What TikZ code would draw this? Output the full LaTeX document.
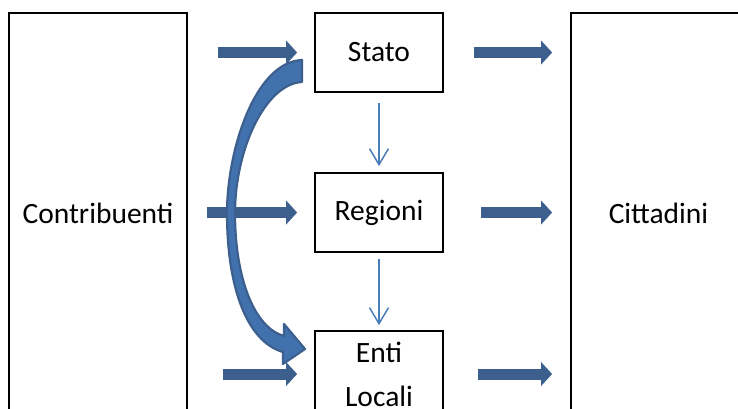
\documentclass[tikz,border=0pt]{standalone}
\usepackage{fontspec}
\setmainfont{Carlito}
\usetikzlibrary{arrows.meta,calc}
\definecolor{blockblue}{HTML}{3C5F8E}
\definecolor{thinblue}{HTML}{4A7EBB}
\definecolor{curvefill}{HTML}{4272AE}
\begin{document}
\begin{tikzpicture}[x=1pt,y=-1pt,
  font=\fontsize{29.5}{44}\selectfont,
  box/.style={draw=black,line width=1.8pt,inner sep=0pt,align=center,minimum width=128pt,minimum height=79pt},
  tall/.style={draw=black,line width=1.8pt,inner sep=0pt,minimum height=400pt},
  blockarrow/.style={draw=blockblue,line width=11pt,-{Triangle[length=11pt,width=24pt,line width=0pt]}},
  thinarrow/.style={draw=thinblue,line width=1.5pt,-{Straight Barb[length=16pt,width=19pt]}}]
\useasboundingbox (0,0) rectangle (738,408);
\clip (0,0) rectangle (738,408);
\node[tall,minimum width=178pt] (contrib) at (98,213) {Contribuenti};
\node[tall,minimum width=175pt] (citt) at (658.5,213) {Cittadini};
\node[box] (stato) at (379,52.5) {Stato};
\node[box] (reg) at (379,212.5) {Regioni};
\node[box,minimum height=86pt] (enti) at (379,374) {Enti\\Locali};
% block arrows
\draw[blockarrow] ([xshift=30pt]contrib.east |- stato.west) -- ([xshift=-17pt]stato.west);
\draw[blockarrow] ([xshift=19pt]contrib.east |- reg.west) -- ([xshift=-17pt]reg.west);
\draw[blockarrow] ([xshift=35pt]contrib.east |- enti.west) -- ([xshift=-17pt]enti.west);
\draw[blockarrow] ([xshift=30pt]stato.east) -- ([xshift=-18pt]citt.west |- stato.east);
\draw[blockarrow] ([xshift=37pt]reg.east) -- ([xshift=-18pt]citt.west |- reg.east);
\draw[blockarrow] ([xshift=34pt]enti.east) -- ([xshift=-18pt]citt.west |- enti.east);
% thin arrows
\draw[thinarrow] ([yshift=-10pt]stato.south) -- ([yshift=6pt]reg.north);
\draw[thinarrow] ([yshift=-6pt]reg.south) -- ([yshift=5pt]enti.north);
% curved arrow
\draw[draw=blockblue,fill=curvefill,line width=2.2pt,line join=round]
  (302,60) .. controls (255,62) and (227,150) .. (227,213)
  .. controls (227,290) and (248,342) .. (283,352)
  -- (283,364) -- (305,349) -- (284,324) -- (284,336)
  .. controls (255,328) and (235,280) .. (235,213)
  .. controls (235,150) and (265,84) .. (302,82) -- cycle;
\end{tikzpicture}
\end{document}
